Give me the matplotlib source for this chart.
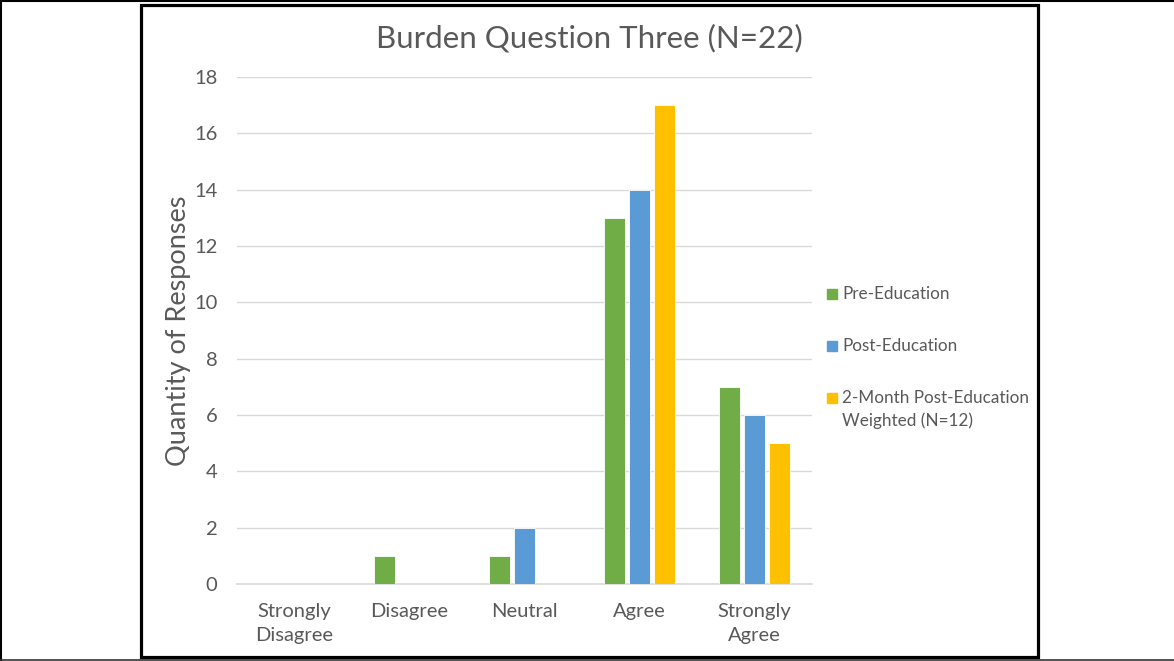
import matplotlib
matplotlib.use("Agg")
import matplotlib.pyplot as plt
from matplotlib.patches import Rectangle
from matplotlib.lines import Line2D
import numpy as np

plt.rcParams['font.family'] = ['Lato', 'DejaVu Sans']

categories = ["Strongly\nDisagree", "Disagree", "Neutral", "Agree", "Strongly\nAgree"]
series_names = ["Pre-Education", "Post-Education", "2-Month Post-Education\nWeighted (N=12)"]
pre_education = [0, 1, 1, 13, 7]
post_education = [0, 0, 2, 14, 6]
two_month_post = [0, 0, 0, 17, 5]
colors = ["#70AD47", "#5B9BD5", "#FFC000"]
y_ticks = [0, 2, 4, 6, 8, 10, 12, 14, 16, 18]

TEXT = "#595959"
W, H = 1174, 661
fig = plt.figure(figsize=(W / 100, H / 100), dpi=100)
ax = fig.add_axes([237 / W, 1 - 584 / H, (812 - 237) / W, (584 - 77) / H])

x = np.arange(len(categories))
offset = 0.217
width = 0.18
for k, (vals, col) in enumerate(zip([pre_education, post_education, two_month_post], colors)):
    ax.bar(x + (k - 1) * offset, vals, width, color=col, edgecolor="white",
           linewidth=0.6, zorder=3)

ax.set_xlim(-0.5, len(categories) - 0.5)
ax.set_ylim(0, 18)
ax.set_yticks(y_ticks)
ax.set_xticks(x)
ax.set_xticklabels(categories, fontsize=14.5, color=TEXT, linespacing=1.5)
ax.tick_params(axis="y", labelsize=14.5, labelcolor=TEXT, length=0, pad=14)
ax.tick_params(axis="x", length=0, pad=14)
ax.grid(axis="y", color="#D9D9D9", linewidth=1, zorder=0)
for s in ["top", "right", "left"]:
    ax.spines[s].set_visible(False)
ax.spines["bottom"].set_color("#D9D9D9")
ax.spines["bottom"].set_linewidth(1.2)

ax.set_ylabel("Quantity of Responses", fontsize=19.5, color=TEXT)
ax.yaxis.set_label_coords((191 - 237) / (812 - 237), 0.5)
fig.text(589 / W, 1 - 38 / H, "Burden Question Three (N=22)", fontsize=22.5,
         color=TEXT, ha="center", va="center")

# legend
leg_y = [294, 346, 398]
for name, col, yy in zip(series_names, colors, leg_y):
    fig.patches.append(Rectangle((827 / W, 1 - (yy + 5) / H), 10 / W, 10 / H,
                                 transform=fig.transFigure, color=col))
    fig.text(842 / W, 1 - (yy - 8) / H, name, fontsize=12.3, color=TEXT,
             ha="left", va="top", linespacing=1.5)

# frames
fig.patches.append(Rectangle((140.5 / W, 1 - 656.5 / H), (1037.5 - 140.5) / W,
                             (656.5 - 5) / H, transform=fig.transFigure,
                             fill=False, edgecolor="black", linewidth=2.3))
fig.lines.append(Line2D([1 / W, 1 / W], [0, 1], transform=fig.transFigure,
                        color="black", linewidth=1.5))
fig.lines.append(Line2D([0, 1], [1 - 1 / H, 1 - 1 / H], transform=fig.transFigure,
                        color="black", linewidth=1.5))
fig.lines.append(Line2D([0, 1], [1 - 659.5 / H, 1 - 659.5 / H], transform=fig.transFigure,
                        color="#333333", linewidth=1.2))

fig.savefig("out.png", dpi=100, facecolor="white")
